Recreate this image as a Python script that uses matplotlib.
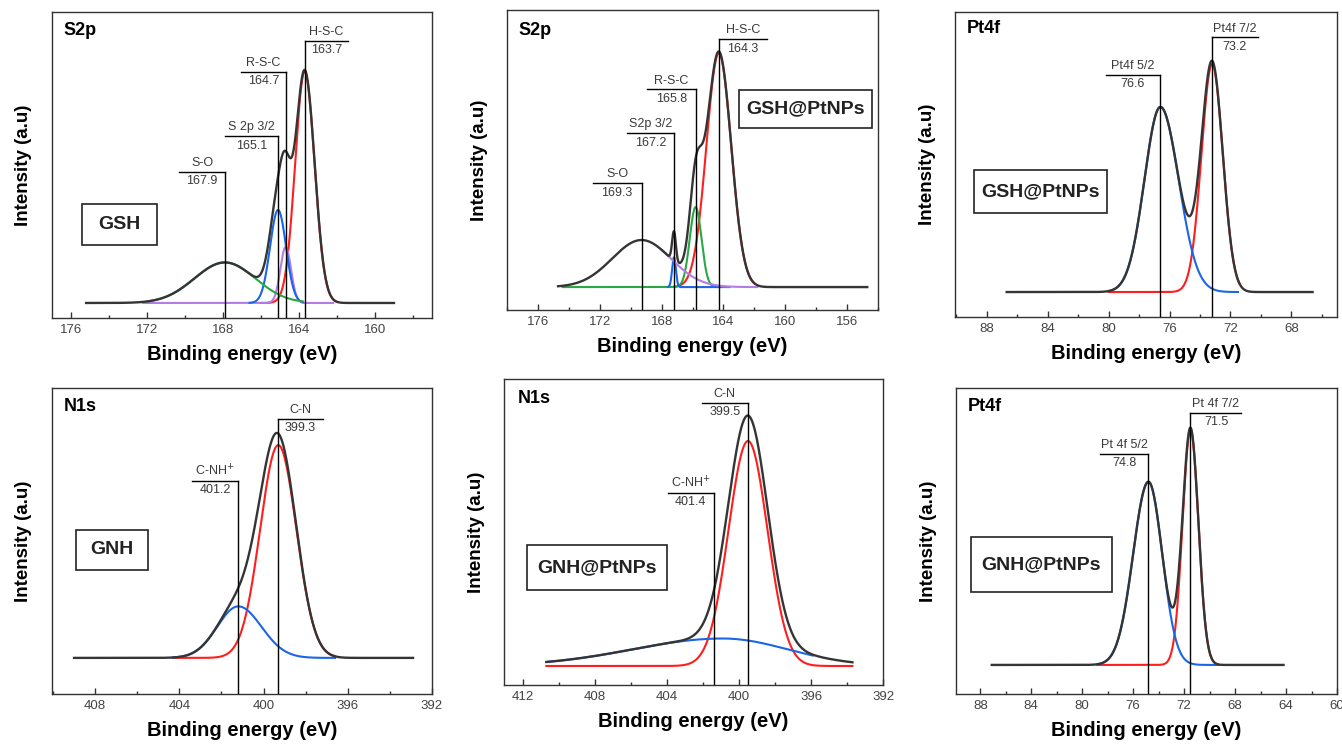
import numpy as np
import matplotlib.pyplot as plt
from matplotlib.patches import Rectangle

plt.rcParams['font.family'] = ['Liberation Sans', 'DejaVu Sans']

# peak-fit components:
# centre (eV), height (baseline=0, envelope max ~1), sigma on high-BE side, sigma on low-BE side,
# and the BE span over which each component line is drawn
# ---- S2p, GSH
s2p_gsh_env = [175.2, 159.0]
s2p_gsh_name = ['H-S-C', 'R-S-C', 'S 2p 3/2', 'S-O']
s2p_gsh_center = [163.7, 164.7, 165.1, 167.9]
s2p_gsh_height = [0.97, 0.235, 0.39, 0.17]
s2p_gsh_sig_hi = [0.50, 0.28, 0.42, 1.6]
s2p_gsh_sig_lo = [0.52, 0.28, 0.42, 1.6]
s2p_gsh_span = [[166.0, 162.0], [172.2, 162.2], [166.6, 163.8], [172.0, 163.8]]
s2p_gsh_peaks = [167.9, 165.1, 164.7, 163.7]
s2p_gsh_peak_lbl = ['S-O', 'S 2p 3/2', 'R-S-C', 'H-S-C']

# ---- S2p, GSH@PtNPs
s2p_pt_env = [174.7, 154.7]
s2p_pt_name = ['H-S-C', 'R-S-C', 'S2p 3/2', 'S-O']
s2p_pt_center = [164.3, 165.8, 167.2, 169.3]
s2p_pt_height = [0.98, 0.335, 0.125, 0.197]
s2p_pt_sig_hi = [0.80, 0.38, 0.12, 1.9]
s2p_pt_sig_lo = [0.80, 0.38, 0.12, 1.9]
s2p_pt_span = [[167.2, 162.0], [174.4, 163.6], [167.6, 164.2], [168.0, 161.8]]
s2p_pt_peaks = [169.3, 167.2, 165.8, 164.3]
s2p_pt_peak_lbl = ['S-O', 'S2p 3/2', 'R-S-C', 'H-S-C']

# ---- Pt4f, GSH@PtNPs
pt_gsh_env = [86.7, 66.6]
pt_gsh_center = [73.2, 76.6]
pt_gsh_height = [0.985, 0.80]
pt_gsh_sig_hi = [0.70, 1.05]
pt_gsh_sig_lo = [0.70, 1.20]
pt_gsh_span = [[80.0, 71.4], [80.0, 71.5]]
pt_gsh_peaks = [76.6, 73.2]
pt_gsh_peak_lbl = ['Pt4f 5/2', 'Pt4f 7/2']

# ---- N1s, GNH
n_gnh_env = [409.0, 392.9]
n_gnh_center = [399.3, 401.2]
n_gnh_height = [0.95, 0.23]
n_gnh_sig_hi = [0.86, 1.0]
n_gnh_sig_lo = [0.86, 1.1]
n_gnh_span = [[404.3, 396.6], [404.3, 396.6]]
n_gnh_peaks = [401.2, 399.3]
n_gnh_peak_lbl = ['C-NH$^{+}$', 'C-N']

# ---- N1s, GNH@PtNPs
n_pt_env = [410.7, 393.7]
n_pt_center = [399.5, 400.9]
n_pt_height = [0.90, 0.11]
n_pt_sig_hi = [1.08, 5.0]
n_pt_sig_lo = [1.08, 3.6]
n_pt_span = [[410.7, 393.7], [410.7, 395.9]]
n_pt_peaks = [401.4, 399.5]
n_pt_peak_lbl = ['C-NH$^{+}$', 'C-N']

# ---- Pt4f, GNH@PtNPs
pt_gnh_env = [87.1, 64.2]
pt_gnh_center = [71.5, 74.8]
pt_gnh_height = [0.99, 0.77]
pt_gnh_sig_hi = [0.62, 1.2]
pt_gnh_sig_lo = [0.62, 1.08]
pt_gnh_span = [[78.8, 69.4], [78.8, 69.3]]
pt_gnh_peaks = [74.8, 71.5]
pt_gnh_peak_lbl = ['Pt 4f 5/2', 'Pt 4f 7/2']

RED, BLUE, GREEN, PURPLE, DARK = '#ff1e1e', '#1a66e8', '#2aa845', '#b47ce6', '#353535'


def comp(x, c, h, s_hi, s_lo):
    s = np.where(x >= c, s_hi, s_lo)
    return h * np.exp(-(x - c) ** 2 / (2 * s ** 2))


panels = [
    dict(pos=[0.0387, 0.5743, 0.2832, 0.4096], xlim=(177, 157), ylim=(-0.063, 1.22),
         ticks=(176, 160), env=s2p_gsh_env, c=s2p_gsh_center, h=s2p_gsh_height,
         shi=s2p_gsh_sig_hi, slo=s2p_gsh_sig_lo, span=s2p_gsh_span,
         colors=[RED, PURPLE, BLUE, GREEN],
         peaks=s2p_gsh_peaks, plbl=s2p_gsh_peak_lbl,
         ptop=[0.55, 0.70, 0.97, 1.10], pend=[170.3, 167.9, 167.05, 161.4],
         title='S2p', title_xy=(0.029, 0.94),
         sample='GSH', box=(0.178, 0.306, 0.197, 0.134)),
    dict(pos=[0.3778, 0.585, 0.2765, 0.4016], xlim=(178, 154), ylim=(-0.096, 1.16),
         ticks=(176, 156), env=s2p_pt_env, c=s2p_pt_center, h=s2p_pt_height,
         shi=s2p_pt_sig_hi, slo=s2p_pt_sig_lo, span=s2p_pt_span,
         colors=[RED, GREEN, BLUE, PURPLE],
         peaks=s2p_pt_peaks, plbl=s2p_pt_peak_lbl,
         ptop=[0.435, 0.644, 0.828, 1.038], pend=[172.45, 170.26, 168.97, 161.2],
         title='S2p', title_xy=(0.030, 0.933),
         sample='GSH@PtNPs', box=(0.805, 0.67, 0.358, 0.127)),
    dict(pos=[0.7116, 0.5756, 0.2846, 0.4083], xlim=(90.1, 65), ylim=(-0.108, 1.21),
         ticks=(88, 68), env=pt_gsh_env, c=pt_gsh_center, h=pt_gsh_height,
         shi=pt_gsh_sig_hi, slo=pt_gsh_sig_lo, span=pt_gsh_span,
         colors=[RED, BLUE],
         peaks=pt_gsh_peaks, plbl=pt_gsh_peak_lbl,
         ptop=[0.94, 1.10], pend=[80.2, 70.2],
         title='Pt4f', title_xy=(0.031, 0.947),
         sample='GSH@PtNPs', box=(0.224, 0.411, 0.348, 0.141)),
    dict(pos=[0.0387, 0.0710, 0.2832, 0.4096], xlim=(410.05, 392), ylim=(-0.161, 1.205),
         ticks=(408, 392), env=n_gnh_env, c=n_gnh_center, h=n_gnh_height,
         shi=n_gnh_sig_hi, slo=n_gnh_sig_lo, span=n_gnh_span,
         colors=[RED, BLUE],
         peaks=n_gnh_peaks, plbl=n_gnh_peak_lbl,
         ptop=[0.79, 1.067], pend=[403.4, 397.2],
         title='N1s', title_xy=(0.032, 0.938),
         sample='GNH', box=(0.158, 0.471, 0.189, 0.131)),
    dict(pos=[0.3756, 0.0830, 0.2824, 0.4096], xlim=(413.05, 392), ylim=(-0.076, 1.148),
         ticks=(412, 392), env=n_pt_env, c=n_pt_center, h=n_pt_height,
         shi=n_pt_sig_hi, slo=n_pt_sig_lo, span=n_pt_span,
         colors=[RED, BLUE],
         peaks=n_pt_peaks, plbl=n_pt_peak_lbl,
         ptop=[0.692, 1.052], pend=[403.97, 402.08],
         title='N1s', title_xy=(0.037, 0.935),
         sample='GNH@PtNPs', box=(0.245, 0.384, 0.369, 0.147)),
    dict(pos=[0.7124, 0.0710, 0.2839, 0.4096], xlim=(89.9, 60), ylim=(-0.122, 1.164),
         ticks=(88, 60), env=pt_gnh_env, c=pt_gnh_center, h=pt_gnh_height,
         shi=pt_gnh_sig_hi, slo=pt_gnh_sig_lo, span=pt_gnh_span,
         colors=[RED, BLUE],
         peaks=pt_gnh_peaks, plbl=pt_gnh_peak_lbl,
         ptop=[0.887, 1.059], pend=[78.6, 67.5],
         title='Pt4f', title_xy=(0.031, 0.938),
         sample='GNH@PtNPs', box=(0.224, 0.423, 0.370, 0.180)),
]

fig = plt.figure(figsize=(13.42, 7.47), dpi=100)

for p in panels:
    ax = fig.add_axes(p['pos'])

    # fitted components
    for k in range(len(p['c'])):
        xs = np.linspace(p['span'][k][0], p['span'][k][1], 600)
        ax.plot(xs, comp(xs, p['c'][k], p['h'][k], p['shi'][k], p['slo'][k]),
                color=p['colors'][k], lw=1.5, zorder=2)

    # envelope
    xe = np.linspace(p['env'][0], p['env'][1], 1500)
    ye = np.zeros_like(xe)
    for k in range(len(p['c'])):
        ye += comp(xe, p['c'][k], p['h'][k], p['shi'][k], p['slo'][k])
    ax.plot(xe, ye, color=DARK, lw=1.7, zorder=3)

    ax.set_xlim(*p['xlim'])
    ax.set_ylim(*p['ylim'])
    y0 = p['ylim'][0]

    # peak markers
    for k in range(len(p['peaks'])):
        xp, yt, xend = p['peaks'][k], p['ptop'][k], p['pend'][k]
        ax.plot([xp, xp], [y0, yt], color='black', lw=1.0, zorder=4)
        ax.plot([xend, xp], [yt, yt], color='black', lw=1.0, zorder=4)
        xm = (xp + xend) / 2
        ax.annotate(p['plbl'][k], (xm, yt), xytext=(0, 2), textcoords='offset points',
                    ha='center', va='bottom', fontsize=9, color='#3a3a3a')
        ax.annotate(f'{xp:.1f}', (xm, yt), xytext=(0, -2.5), textcoords='offset points',
                    ha='center', va='top', fontsize=9, color='#3a3a3a')

    # axis cosmetics
    t0, t1 = p['ticks']
    ax.set_xticks(np.arange(t0, t1 - 1, -4))
    lo, hi = min(p['xlim']), max(p['xlim'])
    minor = [v for v in np.arange(np.ceil(lo), np.floor(hi) + 1) if v % 2 == 0 and v % 4 != 0]
    ax.set_xticks(minor, minor=True)
    ax.set_yticks([])
    ax.tick_params(axis='x', which='major', direction='in', length=4, width=1.0,
                   labelsize=9.5, labelcolor='#444444', pad=4, color='#333333')
    ax.tick_params(axis='x', which='minor', direction='in', length=2.5, width=1.0,
                   color='#333333')
    for sp in ax.spines.values():
        sp.set_color('#333333')
        sp.set_linewidth(1.0)

    ax.set_xlabel('Binding energy (eV)', fontsize=14.5, fontweight='bold', labelpad=7)
    ax.set_ylabel('Intensity (a.u)', fontsize=13.5, fontweight='bold', labelpad=14)

    ax.text(p['title_xy'][0], p['title_xy'][1], p['title'], transform=ax.transAxes,
            ha='left', va='center', fontsize=13, fontweight='bold')

    bx, by, bw, bh = p['box']
    ax.add_patch(Rectangle((bx - bw / 2, by - bh / 2), bw, bh, transform=ax.transAxes,
                           fill=False, edgecolor='#222222', lw=1.2, zorder=5))
    ax.text(bx, by, p['sample'], transform=ax.transAxes, ha='center', va='center',
            fontsize=14, fontweight='bold', color='#222222', zorder=5)

fig.savefig('out.png', dpi=100)
